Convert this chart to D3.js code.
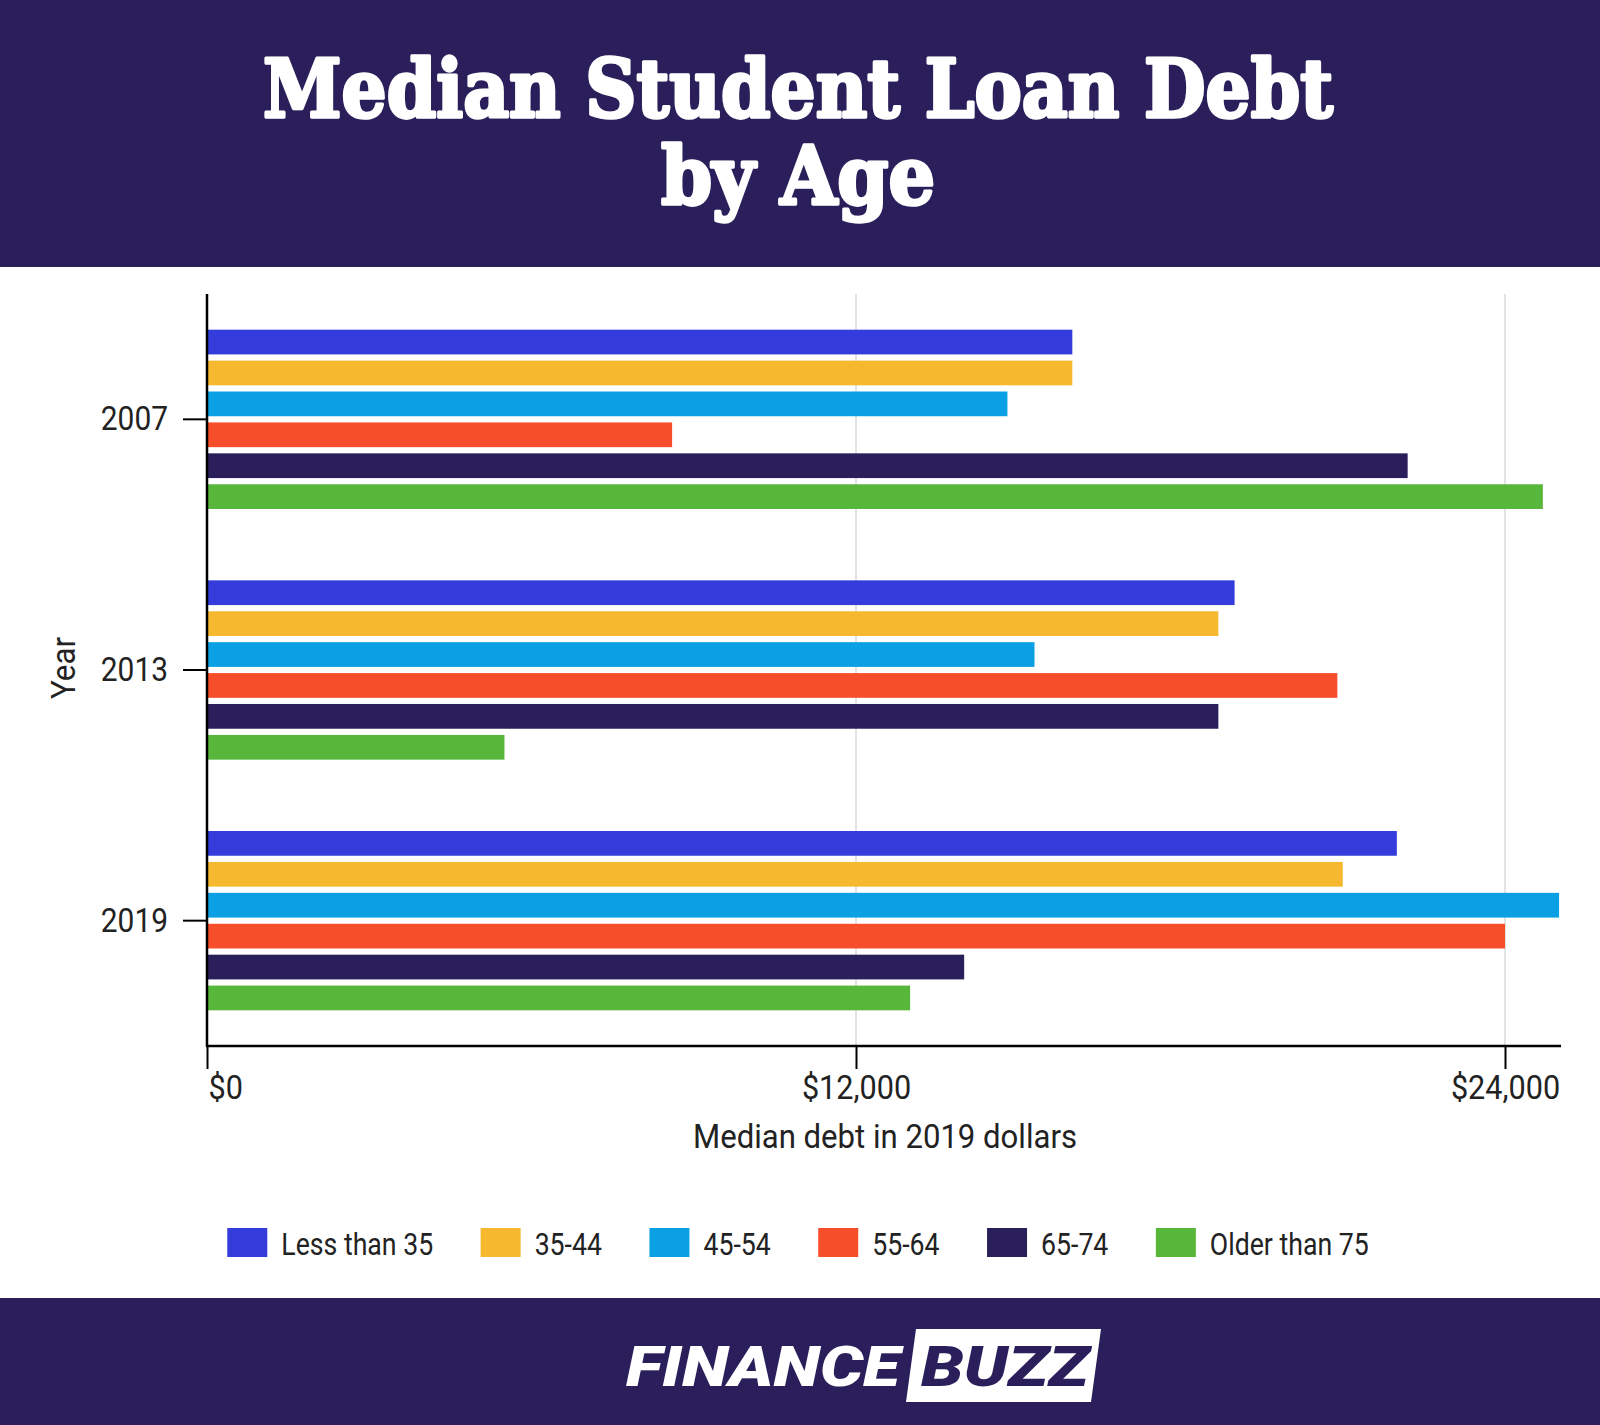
<!DOCTYPE html>
<html>
<head>
<meta charset="utf-8">
<script src="https://cdn.jsdelivr.net/npm/d3@7"></script>
<style>
  body { margin: 0; background: #fff; }
  svg { display: block; }
  text { font-family: Roboto, "Liberation Sans", sans-serif; }
</style>
</head>
<body>
<div id="chart"></div>
<script>
// values, in 2019 dollars
const years = ["2007", "2013", "2019"];
const ageGroups = ["Less than 35", "35-44", "45-54", "55-64", "65-74", "Older than 75"];
const debt2007 = [16000, 16000, 14800, 8600, 22200, 24700];
const debt2013 = [19000, 18700, 15300, 20900, 18700, 5500];
const debt2019 = [22000, 21000, 25000, 24000, 14000, 13000];
const xTicks = [0, 12000, 24000];
const colors = ["#343cdb", "#f5b82e", "#0aa0e3", "#f64d2b", "#2a1f5a", "#57b73b"];

const NAVY = "#2a1f5a";
const W = 1600, H = 1425;
const plot = { left: 207, top: 294, bottom: 1046, right: 1561 };

const rows = years.map((year, i) => ({
  year,
  values: [debt2007, debt2013, debt2019][i].map((v, j) => ({ group: ageGroups[j], value: v }))
}));

const svg = d3.select("#chart").append("svg")
  .attr("width", W)
  .attr("height", H);

// squeeze Roboto into something close to Roboto Condensed
function condense(sel, k) {
  sel.each(function () {
    let w = this.getComputedTextLength();
    d3.select(this).attr("textLength", w * k).attr("lengthAdjust", "spacingAndGlyphs");
  });
  return sel;
}

// header
svg.append("rect").attr("x", 0).attr("y", 0).attr("width", W).attr("height", 267).attr("fill", NAVY);
let titleLines = [
  { t: "Median Student Loan Debt", y: 117, len: 1070 },
  { t: "by Age", y: 204, len: 274 }
];
svg.selectAll(".title").data(titleLines).enter()
  .append("text")
  .attr("class", "title")
  .attr("x", 798)
  .attr("y", d => d.y)
  .attr("text-anchor", "middle")
  .style("font-family", "'DejaVu Serif', serif")
  .style("font-weight", "bold")
  .style("font-size", "80px")
  .attr("fill", "#fff")
  .attr("stroke", "#fff")
  .attr("stroke-width", 3.5)
  .attr("stroke-linejoin", "round")
  .attr("textLength", d => d.len)
  .attr("lengthAdjust", "spacingAndGlyphs")
  .text(d => d.t);

// scales
const x = d3.scaleLinear().domain([0, 24000]).range([plot.left, 1505]);
const y0 = d3.scaleBand().domain(years).range([plot.top, plot.bottom]).paddingInner(0.26).paddingOuter(0.13);
const y1 = d3.scaleBand().domain(ageGroups).range([0, y0.bandwidth()]).paddingInner(0.2).paddingOuter(0.1);
const color = d3.scaleOrdinal().domain(ageGroups).range(colors);

// gridlines
svg.append("g").selectAll("line")
  .data(xTicks.filter(d => d > 0)).enter()
  .append("line")
  .attr("x1", d => x(d)).attr("x2", d => x(d))
  .attr("y1", plot.top).attr("y2", plot.bottom)
  .attr("stroke", "#e3e3e3")
  .attr("stroke-width", 2);

// bars
let groups = svg.append("g").selectAll("g")
  .data(rows).enter()
  .append("g")
  .attr("transform", d => "translate(0," + y0(d.year) + ")");

groups.selectAll("rect")
  .data(d => d.values).enter()
  .append("rect")
  .attr("x", x(0))
  .attr("y", d => y1(d.group))
  .attr("width", d => x(d.value) - x(0))
  .attr("height", y1.bandwidth())
  .attr("fill", d => color(d.group));

// x axis
let xAxis = svg.append("g")
  .attr("transform", "translate(0," + plot.bottom + ")")
  .call(d3.axisBottom(x).tickValues(xTicks).tickSize(23).tickPadding(8)
    .tickFormat(d => "$" + d3.format(",")(d)));
xAxis.select(".domain").remove();
xAxis.append("line")
  .attr("x1", plot.left - 1).attr("x2", plot.right)
  .attr("stroke", "#000").attr("stroke-width", 2.5);
xAxis.selectAll(".tick line").attr("stroke", "#000").attr("stroke-width", 2);
xAxis.selectAll(".tick text")
  .attr("fill", "#222")
  .style("font-size", "34px")
  .attr("dy", "0.66em")
  .attr("text-anchor", d => d === 0 ? "start" : "middle")
  .attr("dx", d => d === 0 ? 1 : 0)
  .call(condense, 0.9);

// y axis
let yAxis = svg.append("g")
  .attr("transform", "translate(" + plot.left + ",0)")
  .call(d3.axisLeft(y0).tickSize(24).tickPadding(15));
yAxis.select(".domain").remove();
yAxis.append("line")
  .attr("y1", plot.top).attr("y2", plot.bottom + 1)
  .attr("stroke", "#000").attr("stroke-width", 2.5);
yAxis.selectAll(".tick line").attr("stroke", "#000").attr("stroke-width", 2);
yAxis.selectAll(".tick text")
  .attr("fill", "#222")
  .style("font-size", "34px")
  .call(condense, 0.88);

// axis titles
svg.append("text")
  .attr("x", 885).attr("y", 1148)
  .attr("text-anchor", "middle")
  .attr("fill", "#222")
  .style("font-size", "34px")
  .text("Median debt in 2019 dollars")
  .call(condense, 0.915);

svg.append("text")
  .attr("transform", "translate(75,668) rotate(-90)")
  .attr("text-anchor", "middle")
  .attr("fill", "#222")
  .style("font-size", "34px")
  .text("Year")
  .call(condense, 0.92);

// legend
let legend = svg.append("g");
let lx = 0;
ageGroups.forEach(g => {
  let item = legend.append("g").attr("transform", "translate(" + lx + ",0)");
  item.append("rect")
    .attr("x", 0).attr("y", 1228)
    .attr("width", 40).attr("height", 29)
    .attr("fill", color(g));
  let t = item.append("text")
    .attr("x", 54).attr("y", 1255)
    .attr("fill", "#222")
    .style("font-size", "31px")
    .text(g)
    .call(condense, 0.86);
  lx += 54 + (+t.attr("textLength")) + 47.5;
});
let legendWidth = lx - 47.5;
legend.attr("transform", "translate(" + (798 - legendWidth / 2) + ",0)");

// footer
svg.append("rect").attr("x", 0).attr("y", 1298).attr("width", W).attr("height", H - 1298).attr("fill", NAVY);
svg.append("text")
  .attr("x", 626).attr("y", 1386)
  .attr("fill", "#fff")
  .style("font-family", "Roboto, 'Liberation Sans', sans-serif")
  .style("font-weight", 900)
  .style("font-style", "italic")
  .style("font-size", "56px")
  .attr("textLength", 274)
  .attr("lengthAdjust", "spacingAndGlyphs")
  .text("FINANCE");
svg.append("polygon")
  .attr("points", "916,1329 1101,1329 1091,1402 906,1402")
  .attr("fill", "#fff");
svg.append("text")
  .attr("x", 921).attr("y", 1386)
  .attr("fill", NAVY)
  .style("font-family", "Roboto, 'Liberation Sans', sans-serif")
  .style("font-weight", 900)
  .style("font-style", "italic")
  .style("font-size", "56px")
  .attr("textLength", 168)
  .attr("lengthAdjust", "spacingAndGlyphs")
  .text("BUZZ");
</script>
</body>
</html>
